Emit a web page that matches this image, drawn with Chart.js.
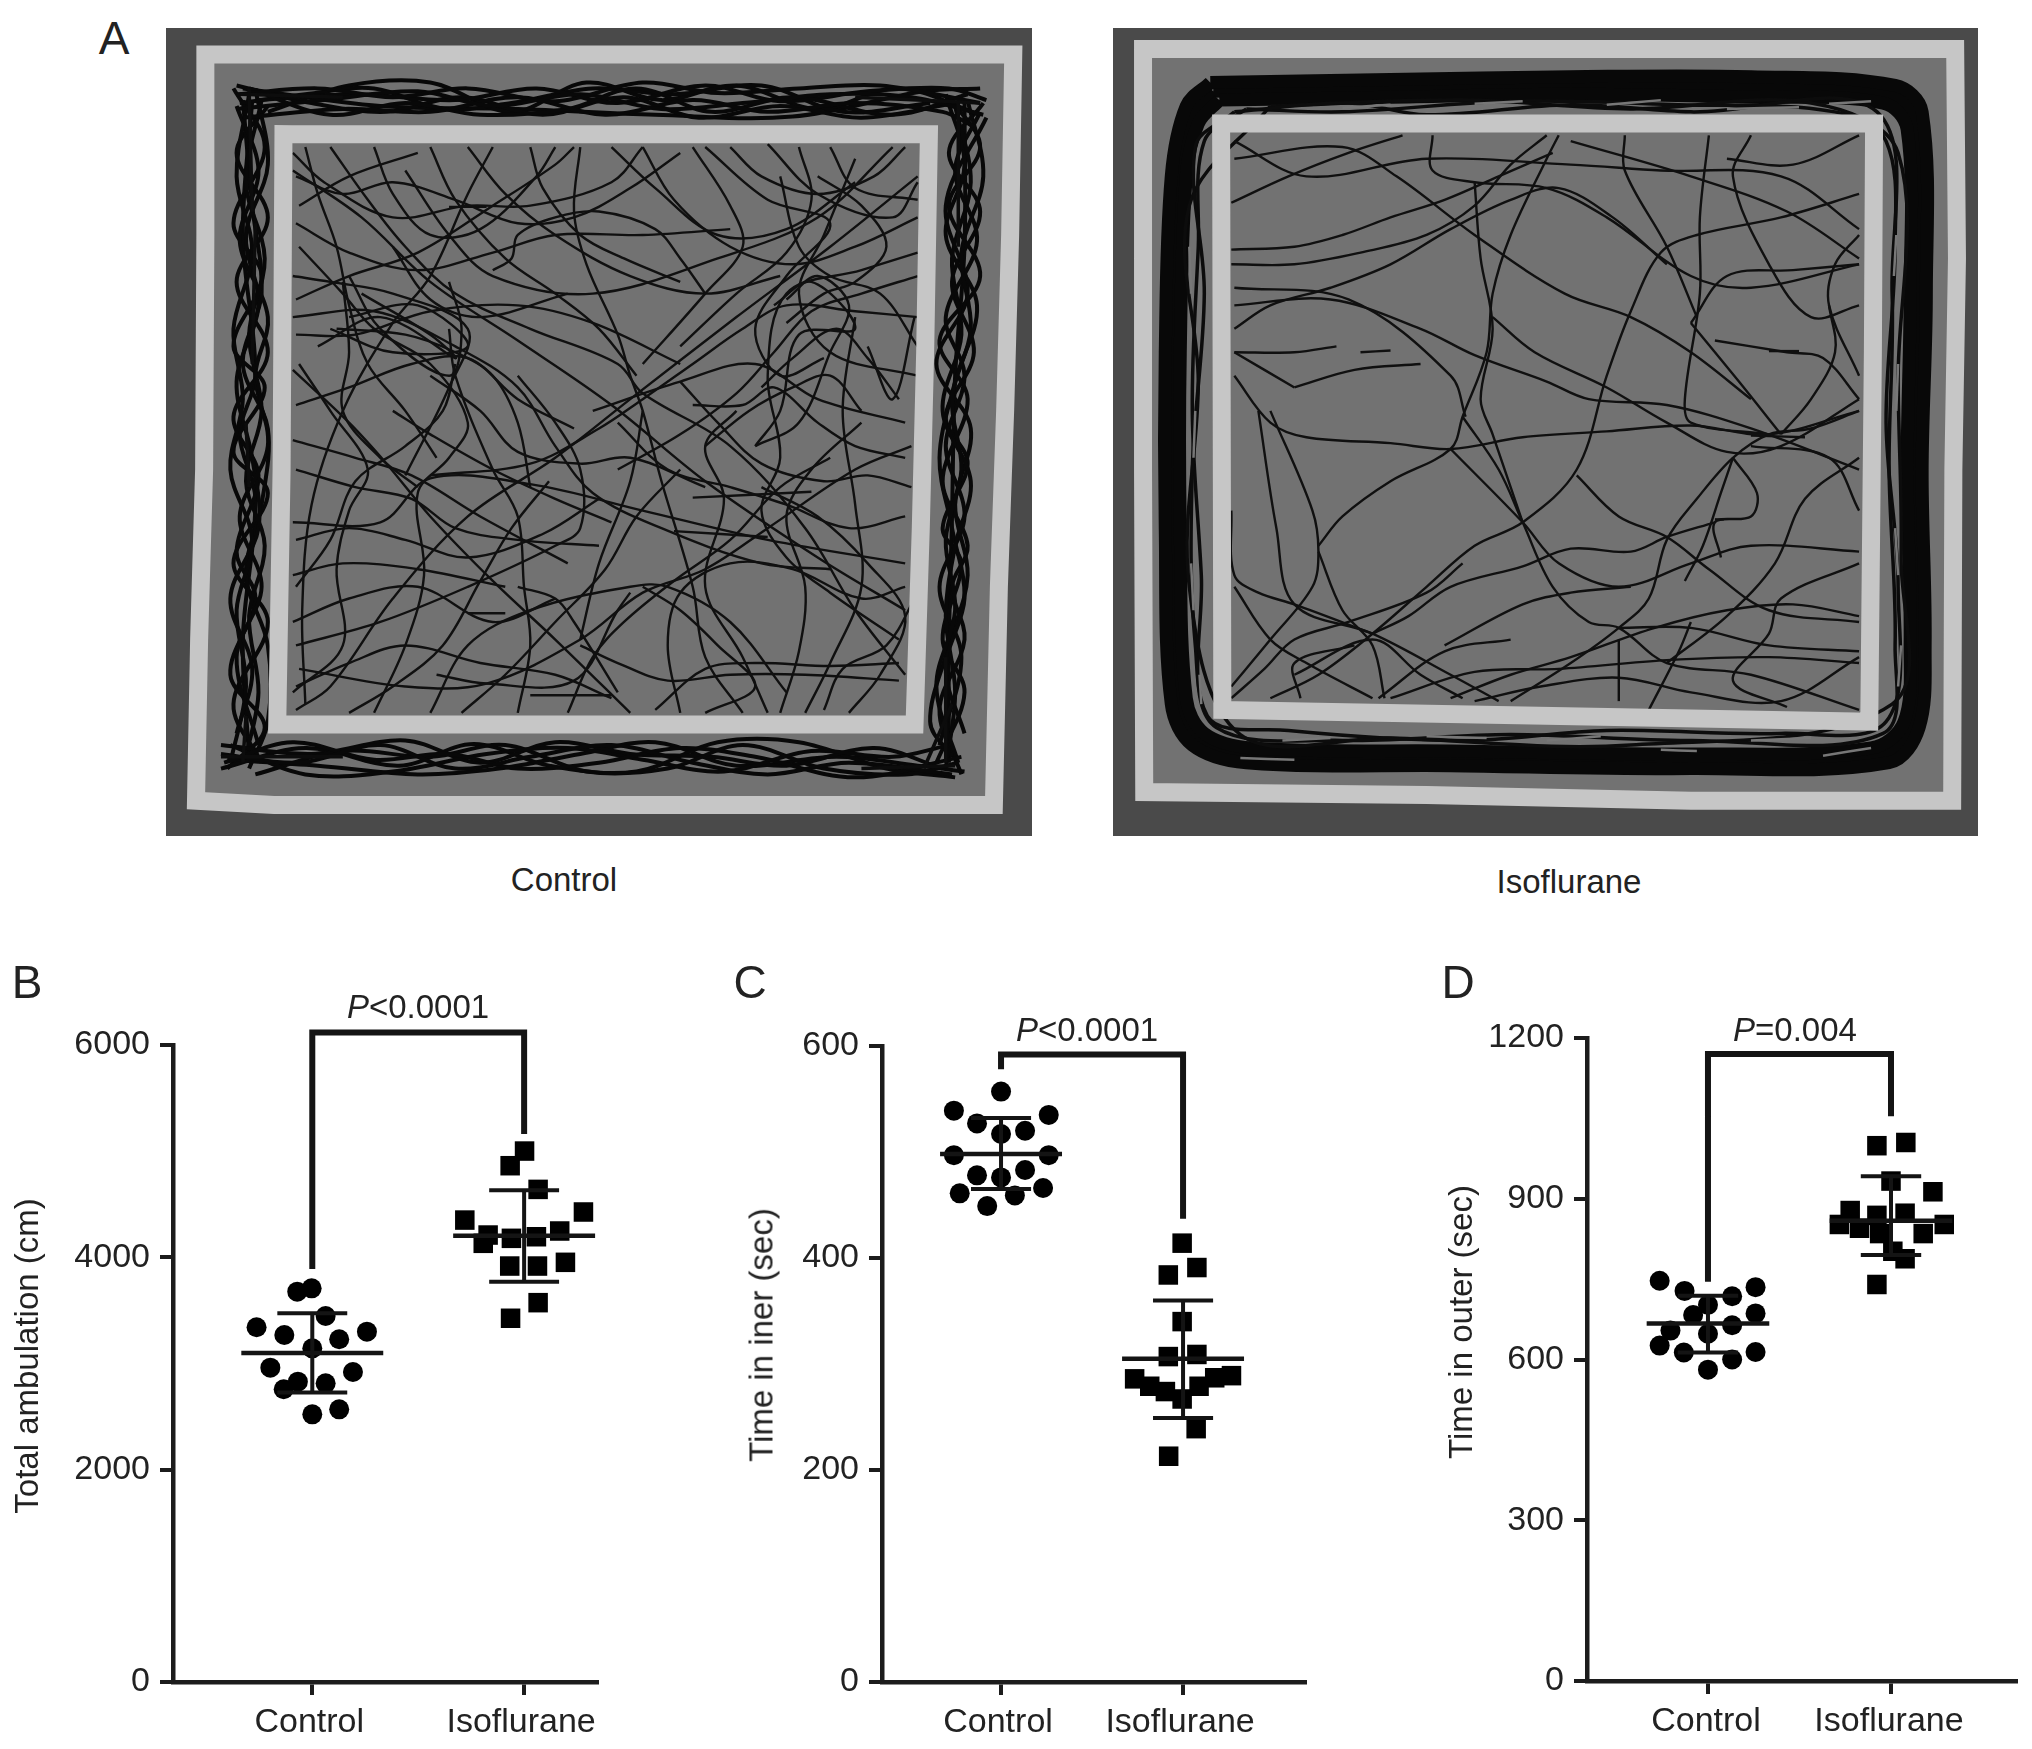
<!DOCTYPE html>
<html>
<head>
<meta charset="utf-8">
<title>Open field</title>
<script src="https://cdn.jsdelivr.net/npm/chart.js@4/dist/chart.umd.js"></script>
<style>
html, body { margin: 0; padding: 0; background: #fff; }
body { position: relative; width: 2032px; height: 1749px; overflow: hidden; font-family: "Liberation Sans", Arial, sans-serif; color: #222; }
canvas { position: absolute; }
.txt { position: absolute; transform: translate(-50%, -50%); font-size: 33px; line-height: 1; white-space: nowrap; }
.letter { font-size: 46px; }
.rot { transform: translate(-50%, -50%) rotate(-90deg); }
.track { filter: blur(0.6px); }
</style>
</head>
<body>
<canvas id="trackControl" class="track" style="left:166px;top:28px" width="866" height="808"></canvas>
<canvas id="trackIso" class="track" style="left:1113px;top:28px" width="865" height="808"></canvas>
<canvas id="chartB" style="left:0;top:940px" width="640" height="809"></canvas>
<canvas id="chartC" style="left:700px;top:940px" width="640" height="809"></canvas>
<canvas id="chartD" style="left:1400px;top:940px" width="632" height="809"></canvas>

<div class="txt letter" style="left:114px;top:38px">A</div>
<div class="txt" style="left:564px;top:879px">Control</div>
<div class="txt" style="left:1569px;top:881px">Isoflurane</div>

<div class="txt letter" style="left:27px;top:982px">B</div>
<div class="txt letter" style="left:750px;top:982px">C</div>
<div class="txt letter" style="left:1458px;top:982px">D</div>

<div class="txt" style="left:418px;top:1006px"><i>P</i>&lt;0.0001</div>
<div class="txt" style="left:1087px;top:1029px"><i>P</i>&lt;0.0001</div>
<div class="txt" style="left:1795px;top:1029px"><i>P</i>=0.004</div>

<div class="txt rot" style="left:26px;top:1356px">Total ambulation (cm)</div>
<div class="txt rot" style="left:761px;top:1335px">Time in iner (sec)</div>
<div class="txt rot" style="left:1460px;top:1322px">Time in outer (sec)</div>

<script>
var categories = ["Control", "Isoflurane"];

// panel B
var bControlX = [-0.071, -0.003, 0.063, -0.263, -0.132, 0.127, 0.258, 0, -0.198, 0.192, -0.068, -0.135, 0.063, 0, 0.127];
var bControlY = [3677, 3708, 3447, 3341, 3268, 3228, 3300, 3143, 2961, 2920, 2829, 2757, 2813, 2521, 2568];
var bIsoX = [0.002, -0.066, 0.066, -0.28, 0.28, -0.17, -0.193, -0.06, 0.058, 0.168, -0.068, 0.063, 0.195, 0.066, -0.064];
var bIsoY = [5001, 4863, 4640, 4351, 4427, 4210, 4132, 4179, 4194, 4248, 3918, 3918, 3953, 3573, 3426];
var bControlStats = [3099, 3473, 2728]; // mean, upper, lower
var bIsoStats = [4204, 4631, 3770];
var bBracket = [3890, 6117, 5161]; // left end, top, right end
var bTicks = [0, 2000, 4000, 6000];

// panel C
var cControlX = [0, -0.259, 0.262, -0.132, 0.132, 0, -0.259, 0.262, -0.132, 0.132, 0, -0.227, 0.231, 0.076, -0.076];
var cControlY = [557, 539, 535, 527, 520, 517, 497, 497, 478, 483, 476, 461, 466, 459, 449];
var cIsoX = [-0.005, -0.081, 0.076, -0.005, -0.081, 0.076, -0.266, -0.183, -0.097, -0.005, 0.088, 0.174, 0.266, 0.072, -0.079];
var cIsoY = [414, 384, 391, 340, 307, 309, 286, 279, 274, 267, 279, 287, 289, 239, 213];
var cControlStats = [498, 532, 465];
var cIsoStats = [305, 360, 249];
var cBracket = [578, 592, 437];
var cTicks = [0, 200, 400, 600];

// panel D
var dControlX = [-0.264, -0.128, 0.132, 0.26, 0, -0.081, 0.26, 0.132, -0.205, 0, -0.264, -0.132, 0.132, 0.26, 0];
var dControlY = [747, 728, 718, 735, 702, 683, 686, 664, 654, 648, 626, 613, 600, 614, 581];
var dIsoX = [-0.077, 0.081, 0, 0.229, -0.223, -0.077, 0.077, -0.282, -0.172, -0.062, 0.176, 0.291, 0.01, 0.077, -0.077];
var dIsoY = [999, 1005, 933, 913, 878, 869, 873, 852, 845, 835, 835, 852, 802, 788, 740];
var dControlStats = [667, 719, 613];
var dIsoStats = [859, 942, 795];
var dBracket = [745, 1170, 1054];
var dTicks = [0, 300, 600, 900, 1200];

// panel A, traced by eye, flat x,y lists in arena units
var controlOuterWall = [200,92, 1493,92, 1488,400, 1480,700, 1470,1000, 1462,1372, 310,1372, 185,1365, 190,1090, 198,800, 200,400, 200,92];
var controlInnerWall = [325,228, 1358,228, 1352,600, 1345,900, 1335,1235, 315,1235, 322,800, 325,228];
var controlRing = [
    [250,160, 380,150, 500,165, 620,150, 760,172, 900,140, 1020,158, 1150,150, 1280,145, 1440,175],
    [250,185, 390,170, 540,155, 660,180, 800,160, 930,185, 1060,175, 1200,160, 1330,165, 1445,195],
    [260,200, 420,185, 560,190, 700,165, 840,195, 980,170, 1100,190, 1240,175, 1380,190, 1430,215],
    [270,150, 400,195, 520,175, 640,195, 780,185, 890,150, 1010,190, 1140,165, 1300,195, 1420,160],
    [280,170, 440,160, 600,170, 730,150, 860,175, 1000,145, 1120,172, 1260,155, 1390,150, 1450,170],
    [255,175, 360,160, 470,150, 580,185, 690,175, 820,150, 950,160, 1090,145, 1220,190, 1360,175],
    [250,145, 370,175, 490,190, 610,165, 740,195, 870,165, 990,200, 1120,180, 1250,200, 1400,175],
    [300,190, 430,145, 560,140, 690,190, 810,140, 930,170, 1050,145, 1180,185, 1310,150, 1440,195],
    [260,150, 480,180, 700,185, 920,195, 1140,198, 1350,155, 1440,150],
    [225,1285, 350,1300, 480,1270, 600,1310, 720,1290, 850,1270, 980,1300, 1100,1320, 1230,1300, 1395,1320],
    [230,1300, 340,1265, 470,1295, 590,1285, 700,1310, 830,1300, 960,1275, 1080,1290, 1240,1325, 1410,1290],
    [240,1270, 360,1320, 500,1315, 650,1285, 780,1275, 900,1295, 1030,1315, 1170,1280, 1300,1290, 1390,1270],
    [280,1320, 420,1280, 560,1290, 680,1270, 810,1315, 940,1310, 1060,1270, 1190,1310, 1320,1320, 1405,1300],
    [225,1270, 370,1285, 520,1262, 640,1300, 760,1265, 880,1285, 1010,1290, 1130,1305, 1270,1275, 1380,1310],
    [225,1310, 360,1275, 510,1305, 630,1268, 750,1305, 890,1315, 1020,1265, 1150,1265, 1290,1310, 1400,1325],
    [235,1295, 380,1305, 540,1320, 670,1310, 800,1285, 920,1265, 1050,1305, 1210,1290, 1340,1305, 1415,1315],
    [270,160, 250,300, 275,430, 245,560, 260,680, 240,800, 275,920, 250,1040, 265,1170, 240,1300],
    [290,170, 265,310, 295,440, 270,570, 290,700, 265,820, 295,930, 270,1050, 285,1180, 265,1290],
    [250,180, 285,290, 255,410, 300,540, 280,640, 300,760, 255,880, 290,1000, 250,1120, 285,1270],
    [280,150, 300,280, 265,400, 285,520, 250,650, 275,780, 285,900, 240,1020, 275,1140, 250,1250],
    [260,170, 275,350, 290,500, 260,620, 300,730, 290,860, 265,980, 300,1100, 300,1230, 270,1310],
    [245,150, 295,250, 245,380, 290,470, 245,590, 295,660, 245,770, 300,840, 245,960, 300,1060, 245,1200, 290,1300],
    [300,180, 250,260, 300,370, 250,480, 300,600, 245,710, 285,810, 250,940, 280,1020, 240,1150, 295,1240, 235,1310],
    [275,170, 260,400, 280,640, 255,740, 280,850, 260,1090, 270,1290],
    [1420,170, 1445,300, 1410,430, 1425,560, 1395,680, 1410,800, 1385,920, 1400,1040, 1370,1170, 1405,1300],
    [1400,180, 1425,310, 1395,440, 1410,570, 1380,700, 1425,820, 1400,930, 1385,1050, 1400,1180, 1385,1310],
    [1440,190, 1400,290, 1435,410, 1385,540, 1415,640, 1385,760, 1415,880, 1375,1000, 1410,1120, 1375,1270],
    [1385,160, 1415,280, 1385,400, 1435,520, 1400,650, 1375,780, 1395,900, 1415,1020, 1385,1140, 1415,1250],
    [1450,200, 1385,350, 1420,500, 1370,620, 1425,730, 1400,860, 1420,980, 1390,1100, 1360,1230, 1395,1290],
    [1445,175, 1390,260, 1440,360, 1395,480, 1430,600, 1385,710, 1420,790, 1380,900, 1410,960, 1380,1090, 1415,1180, 1370,1300],
    [1395,170, 1440,250, 1390,350, 1440,470, 1375,580, 1420,680, 1380,820, 1420,930, 1395,1000, 1415,1090, 1375,1210, 1410,1320],
    [1415,175, 1415,420, 1400,640, 1395,880, 1390,1100, 1390,1300]
];
var controlRingHeavy = [
    [255,160, 420,165], [270,150, 275,360], [1240,165, 1440,175], [1405,170, 1405,420],
    [225,1290, 420,1290], [265,1220, 260,1300], [1350,1310, 1395,1200], [1385,1120, 1385,1300],
    [265,720, 270,830], [280,380, 275,620], [1250,1310, 1400,1305]
];
var controlPaths = [
    [340,290, 450,370, 560,480, 700,580, 850,690, 1000,820, 1180,950, 1320,1040],
    [1340,300, 1200,420, 1050,540, 880,680, 760,780, 620,880, 500,1020, 400,1170, 345,1210],
    [1300,250, 1180,370, 1020,440, 820,500, 660,470, 590,400, 520,290],
    [350,420, 420,500, 470,560, 560,620, 620,720, 590,780, 540,840, 550,980, 520,1100, 470,1215],
    [400,250, 460,340, 520,420, 600,500, 720,560, 860,620, 900,670, 1040,760, 1160,900, 1240,1040, 1320,1150],
    [340,890, 480,890, 560,815, 720,825, 900,870, 1100,920, 1320,960],
    [345,1100, 480,1060, 620,1000, 760,930, 800,900, 800,800, 760,720, 700,640],
    [340,630, 430,720, 490,790, 560,880, 660,990, 760,1090, 880,1215],
    [660,250, 620,330, 560,470, 500,550, 420,700, 370,860, 355,1040, 360,1200],
    [800,250, 790,360, 810,450, 860,570, 880,640, 900,700, 930,820, 980,1000, 1000,1120, 1060,1215],
    [1340,540, 1240,530, 1130,520, 1060,560, 980,620, 900,680, 830,730, 720,790, 560,810],
    [1320,720, 1180,680, 1080,620, 960,650, 820,700],
    [350,1140, 520,1170, 650,1165, 800,1090, 900,1010, 1000,970, 1100,900, 1240,800, 1330,760],
    [1340,640, 1200,600, 1150,500, 1190,400, 1240,270],
    [1240,540, 1220,700, 1240,860, 1250,1000, 1200,1130, 1160,1215],
    [560,1215, 620,1100, 720,1040, 880,1000, 940,1000, 1040,1060, 1130,1180],
    [700,1215, 720,1100, 710,1000, 700,880, 660,800, 600,640, 590,560],
    [340,750, 440,780, 530,810, 640,880, 780,960],
    [340,540, 470,530, 600,590, 700,660, 760,760, 820,840, 930,900, 1090,960, 1200,970],
    [980,250, 1040,350, 1060,420, 1000,500, 900,620],
    [1100,245, 1180,330, 1300,370, 1340,310],
    [1340,430, 1250,460, 1130,500, 1100,640, 1120,780, 1090,870, 1130,950, 1200,1010, 1310,1090],
    [350,350, 430,300, 540,260],
    [570,1150, 650,1165, 790,1160, 860,1040, 880,1010],
    [900,700, 880,820, 830,960, 800,1090],
    [340,980, 420,960, 540,970, 680,1000],
    [1310,1130, 1200,1135, 1080,1130, 1000,1140, 920,1210],
    [1050,700, 1000,760, 1030,850, 1000,1000, 1060,1120, 1100,1215],
    [340,470, 400,480, 500,500, 620,560, 590,660, 520,810],
    [660,460, 690,440, 700,400, 760,370, 830,360, 920,390, 960,440, 1000,500],
    [500,420, 560,510, 640,540, 780,500],
    [420,480, 430,600, 420,700, 480,780, 540,830],
    [700,1000, 760,1020, 790,1060, 860,1180],
    [1340,1010, 1290,1100, 1220,1140, 1190,1210],
    [1260,590, 1300,680, 1335,540],
    [340,260, 390,310, 500,370, 620,350, 720,350, 850,310, 900,250],
    [1000,250, 1100,340, 1200,380, 1130,470, 1080,560, 1120,640, 1190,610],
    [350,620, 400,700, 460,800, 430,870, 410,970, 420,1100, 340,1180],
    [400,560, 500,600, 620,590, 540,520, 430,540],
    [380,590, 480,540, 600,610, 560,570, 450,500],
    [1110,520, 1170,480, 1240,560, 1150,570, 1120,700, 1080,760],
    [1000,760, 1070,700, 1140,660, 1200,640, 1250,700],
    [340,1060, 430,1020, 540,1000, 660,1060, 760,1020],
    [1200,250, 1240,320, 1340,340],
    [850,250, 920,320, 1020,400, 1130,390, 1240,310],
    [345,300, 420,330, 500,310, 600,340, 700,380, 790,370, 880,320, 960,260],
    [345,380, 430,430, 540,460, 660,430, 760,400, 900,400, 1040,390],
    [360,250, 380,330, 410,420, 430,520, 460,620, 520,700, 570,780],
    [470,250, 500,330, 560,400, 640,390, 730,300, 760,250],
    [560,250, 600,340, 680,440, 760,500, 830,560, 890,640],
    [620,250, 680,330, 760,400, 880,470, 1000,500, 1120,470],
    [720,250, 740,320, 800,400, 870,440, 960,480],
    [900,250, 950,340, 1040,420, 1140,450, 1240,420, 1340,370],
    [1040,250, 1090,300, 1180,330, 1270,300, 1320,250],
    [1150,250, 1170,340, 1130,430, 1050,500, 960,590],
    [1340,470, 1250,500, 1170,530, 1110,600, 1050,670, 960,740, 860,800],
    [1340,590, 1280,500, 1200,470, 1150,420, 1120,300],
    [345,510, 430,470, 540,430, 660,350, 760,280, 790,250],
    [345,570, 440,570, 560,530, 700,520, 820,550, 960,620],
    [345,690, 430,660, 530,620, 620,610, 700,680, 790,730],
    [345,800, 440,830, 530,850, 600,900, 700,920, 830,930],
    [345,920, 430,900, 520,920, 620,950, 740,910, 830,850],
    [345,1000, 400,920, 440,820, 520,760, 580,700, 600,620],
    [345,1170, 430,1130, 520,1100, 640,1130, 760,1150, 850,1190],
    [430,1215, 500,1170, 580,1100, 640,990, 690,900, 750,820],
    [610,1215, 680,1150, 760,1060, 840,970, 890,880, 960,800],
    [780,1215, 820,1120, 870,1060, 950,990, 1040,920, 1120,830, 1200,780],
    [960,1215, 940,1100, 960,1010, 1040,960, 1140,970, 1250,1020, 1320,1000],
    [1120,1215, 1150,1110, 1160,1000, 1130,880, 1170,800, 1250,720],
    [1230,1215, 1280,1150, 1320,1050, 1260,960, 1180,880, 1090,830],
    [1320,880, 1230,900, 1130,860, 1040,830, 940,800, 860,720],
    [1330,830, 1260,810, 1190,820, 1090,790, 1020,720, 960,650],
    [980,690, 1060,690, 1110,660, 1180,720, 1240,760, 1320,780],
    [1080,760, 1150,720, 1200,600, 1230,520, 1180,470, 1130,510],
    [900,1000, 960,1040, 1020,1100, 1080,1170, 1000,1215],
    [800,1100, 860,1130, 940,1160, 1040,1150, 1160,1150, 1310,1160],
    [560,640, 640,700, 700,770, 800,790, 880,780, 1000,830],
    [500,700, 560,740, 660,800, 760,850, 850,890],
    [410,560, 520,570, 600,600, 660,640, 700,720, 720,830],
    [430,470, 480,560, 590,640, 610,560, 590,480],
    [1130,550, 1190,500, 1240,480, 1290,420, 1250,350, 1180,300],
    [1090,660, 1140,610, 1210,560, 1260,610, 1310,680],
    [620,1045, 680,1045], [590,352, 650,352], [720,1185, 850,1185], [980,848, 1170,838], [950,905, 1100,915]
];

var isoOuterWall = [88,83, 1440,83, 1443,440, 1437,800, 1435,1365, 1000,1365, 560,1355, 90,1350, 88,800, 88,83];
var isoInnerWall = [218,210, 1305,210, 1303,600, 1297,1230, 220,1210, 218,210];
var isoRing = [
    [200,140, 500,135, 800,130, 1100,130, 1340,145, 1385,190, 1392,500, 1385,800, 1390,1100, 1380,1240, 1330,1300, 1000,1310, 600,1305, 260,1300, 170,1270, 135,1200, 125,900, 125,600, 135,300, 160,180, 200,140],
    [215,170, 500,165, 800,160, 1100,165, 1320,175, 1360,220, 1365,500, 1360,800, 1365,1100, 1355,1230, 1300,1275, 1000,1285, 600,1280, 270,1275, 190,1250, 160,1190, 150,900, 150,600, 160,300, 180,210, 215,170],
    [205,155, 500,150, 800,145, 1100,148, 1330,160, 1372,205, 1378,500, 1372,800, 1378,1100, 1368,1235, 1315,1288, 1000,1298, 600,1292, 265,1288, 180,1260, 148,1195, 138,900, 138,600, 148,300, 170,195, 205,155]
];
var isoRingThin = [
    [240,190, 430,175, 560,195, 800,178, 1000,190, 1310,190, 1335,500, 1330,800, 1340,1100, 1320,1250, 1000,1262, 700,1252, 420,1262, 210,1240, 175,1100, 170,800, 190,500, 175,250, 240,190],
    [300,180, 620,170, 900,185, 1200,175, 1345,260, 1345,650, 1350,950, 1335,1200, 900,1270, 500,1258, 250,1252, 165,1000, 180,650, 165,350, 300,180],
    [260,185, 420,190, 700,172, 980,178, 1240,190, 1325,240, 1340,420, 1325,720, 1345,1000, 1325,1230, 1150,1250, 860,1245, 620,1262, 330,1245, 195,1220, 185,980, 170,700, 180,420, 190,240, 260,185]
];
var isoRingFlecks = [
    [420,183, 500,178], [640,176, 720,172], [860,178, 950,170], [1060,185, 1180,182], [1230,176, 1300,172],
    [320,1262, 400,1258], [560,1255, 660,1258], [760,1262, 850,1255], [950,1278, 1010,1280], [1100,1262, 1200,1258],
    [165,420, 168,500], [175,700, 172,780], [168,960, 172,1040], [182,1150, 185,1200],
    [1342,400, 1338,470], [1345,620, 1342,700], [1340,900, 1345,980], [1350,1100, 1345,1170],
    [250,1292, 340,1295], [1220,1288, 1300,1275]
];
var isoPaths = [
    [235,345, 330,300, 430,260, 520,230],
    [235,425, 340,420, 420,400, 500,370, 590,340, 680,300, 770,260],
    [235,450, 340,450, 450,430, 560,400, 640,350, 700,280, 760,230],
    [240,560, 300,520, 400,490, 500,450, 600,390, 700,340, 780,320, 870,370, 960,450],
    [570,230, 570,290, 640,310, 760,320, 860,370, 1000,470, 1100,490, 1280,450],
    [240,600, 340,600, 410,590],
    [340,660, 440,630, 550,620],
    [240,600, 340,660],
    [240,640, 300,720, 360,745, 500,755, 600,765, 720,745, 860,735, 1000,725, 1130,740, 1280,700],
    [280,700, 310,900, 340,1030, 470,1080, 600,1150, 680,1195],
    [300,700, 370,870, 380,940, 370,1000, 300,1090, 235,1170],
    [380,940, 420,1040, 470,1100, 490,1190],
    [380,930, 420,880, 500,820, 600,765, 620,710, 660,600, 670,500, 700,400, 760,270, 780,230],
    [620,710, 680,800, 720,890, 770,1000, 830,1060, 880,1070, 960,1130, 1100,1150, 1280,1210],
    [600,765, 720,890, 780,960, 880,1000, 1000,960, 1100,930, 1280,940],
    [1280,700, 1200,730, 1130,740, 1070,780, 1010,850, 960,920, 930,1020, 880,1070, 800,1130, 700,1195],
    [890,230, 890,290, 960,420, 1010,540],
    [1030,230, 1015,370, 1015,500, 990,680, 1000,720, 1130,740],
    [1280,330, 1150,370, 1010,400, 950,430, 900,530, 860,640, 810,800, 720,890, 640,930, 560,1000, 470,1080, 380,1150, 300,1190],
    [240,520, 400,510, 550,560, 640,605, 760,650, 830,680, 960,690, 1100,730, 1280,800],
    [670,540, 740,600, 860,660, 960,720, 1060,770, 1150,760, 1280,680],
    [240,490, 430,510, 600,640, 625,710],
    [1000,550, 1060,470, 1170,460, 1280,450],
    [1000,550, 1080,650, 1150,740],
    [1040,580, 1160,600, 1220,610, 1280,680],
    [235,870, 240,980, 280,1010, 340,1030, 470,1080],
    [810,810, 880,880, 960,915, 1030,970, 1130,1040, 1280,1060],
    [1070,780, 1110,840, 1100,880, 1040,890, 1050,950],
    [590,1100, 720,1030, 800,1010, 900,1000],
    [480,1190, 590,1110, 700,1090],
    [880,1070, 1000,1070, 1130,1100, 1280,1110],
    [1280,1130, 1130,1120, 960,1125, 780,1140, 640,1145, 500,1190],
    [1040,890, 960,915, 900,940, 800,935, 720,965, 600,1000, 530,1050, 470,1080],
    [1280,960, 1150,1020, 1130,1080, 1070,1160, 1160,1205],
    [930,1210, 980,1110, 1000,1060],
    [880,1195, 880,1090],
    [640,310, 650,440, 670,560, 650,680, 670,740, 720,890],
    [240,240, 360,300, 560,270, 800,280, 950,290, 1150,300, 1280,390],
    [1280,520, 1200,540, 1130,450, 1070,300, 1100,230],
    [800,240, 1000,300, 1160,360, 1280,440],
    [1280,230, 1170,280, 1060,270],
    [340,1150, 470,1090, 550,1150, 620,1190],
    [350,1190, 340,1130, 440,1100],
    [1230,520, 1240,600, 1200,680, 1150,740],
    [1280,870, 1230,780, 1100,760],
    [240,1000, 300,1090, 360,1130, 470,1190],
    [1280,780, 1190,850, 1140,960, 1060,1050, 960,1130],
    [600,1190, 700,1150, 800,1120, 940,1070, 1060,1040, 1170,1030, 1280,1050],
    [235,1190, 290,1140, 340,1090, 430,1060, 560,1010, 620,960],
    [640,1195, 750,1170, 880,1155, 1000,1180, 1150,1195, 1280,1120],
    [1070,780, 1050,840, 1020,930, 990,990],
    [240,270, 420,250, 510,300, 640,400, 790,500, 900,540, 1000,600, 1100,680],
    [1280,640, 1230,520, 1240,450, 1280,400],
    [450,600, 500,597], [1130,598, 1180,598], [1100,742, 1190,745], [1040,885, 1055,885]
];

var ink = "#141414";
var axisColor = "#1c1c1c";
var fontFamily = '"Liberation Sans", Arial, sans-serif';

function pairs(flat) {
    var out = [];
    for (var i = 0; i < flat.length; i += 2) {
        out.push({ x: flat[i], y: flat[i + 1] });
    }
    return out;
}

function lineSet(points, width, color) {
    return {
        data: points, showLine: true, pointRadius: 0, borderWidth: width, borderColor: color,
        backgroundColor: color, borderJoinStyle: "miter", clip: false
    };
}

function errorSets(center, stats) {
    var mean = stats[0], upper = stats[1], lower = stats[2];
    return [
        lineSet([{ x: center - 0.335, y: mean }, { x: center + 0.335, y: mean }], 4.5, ink),
        lineSet([{ x: center, y: upper }, { x: center, y: lower }], 4, ink),
        lineSet([{ x: center - 0.165, y: upper }, { x: center + 0.165, y: upper }], 4, ink),
        lineSet([{ x: center - 0.165, y: lower }, { x: center + 0.165, y: lower }], 4, ink)
    ];
}

function dotSet(center, offsets, values, style, radius) {
    return {
        data: values.map(function (v, i) { return { x: center + offsets[i], y: v }; }),
        showLine: false, pointStyle: style, pointRadius: radius, pointHoverRadius: radius,
        backgroundColor: "#000", borderWidth: 0, clip: false
    };
}

function dotPlot(id, panel) {
    var box = panel.box;
    var bracket = panel.bracket;
    var datasets = errorSets(1, panel.controlStats)
        .concat(errorSets(2, panel.isoStats))
        .concat([
            dotSet(1, panel.controlX, panel.controlY, "circle", 10),
            dotSet(2, panel.isoX, panel.isoY, "rect", 13.8),
            lineSet([{ x: 1, y: bracket[0] }, { x: 1, y: bracket[1] }, { x: 2, y: bracket[1] }, { x: 2, y: bracket[2] }], 6, ink)
        ]);

    new Chart(document.getElementById(id), {
        type: "scatter",
        data: { datasets: datasets },
        options: {
            responsive: false,
            animation: false,
            layout: { padding: { left: 0, top: box.top, right: box.right, bottom: 0 } },
            plugins: { legend: { display: false }, tooltip: { enabled: false } },
            scales: {
                x: {
                    type: "linear",
                    min: panel.xMin,
                    max: panel.xMax,
                    afterBuildTicks: function (scale) {
                        scale.ticks = categories.map(function (c, i) { return { value: i + 1 }; });
                    },
                    afterFit: function (scale) { scale.height = box.bottom; },
                    border: { color: axisColor, width: 4.5 },
                    grid: { drawOnChartArea: false, tickLength: 13, lineWidth: 4, color: axisColor },
                    ticks: {
                        font: { size: 34, family: fontFamily },
                        color: "#222",
                        padding: 7,
                        maxRotation: 0,
                        autoSkip: false,
                        labelOffset: panel.labelOffset,
                        callback: function (v) { return categories[v - 1]; }
                    }
                },
                y: {
                    min: 0,
                    max: panel.ticks[panel.ticks.length - 1],
                    afterBuildTicks: function (scale) {
                        scale.ticks = panel.ticks.map(function (t) { return { value: t }; });
                    },
                    afterFit: function (scale) { scale.width = box.left; },
                    border: { color: axisColor, width: 4.5 },
                    grid: { drawOnChartArea: false, tickLength: 13, lineWidth: 4, color: axisColor },
                    ticks: {
                        font: { size: 34, family: fontFamily },
                        color: "#222",
                        padding: 10,
                        callback: function (v) { return v; }
                    }
                }
            }
        }
    });
}

function trackPlot(id, xRange, yRange, outerWall, innerWall, ringWidth, ring, ringExtra, flecks, paths) {
    var wallColor = "#c6c6c6";
    var walls = [lineSet(pairs(innerWall), 18, wallColor), lineSet(pairs(outerWall), 18, wallColor)];
    walls.forEach(function (d) { d.borderCapStyle = "square"; });
    var strands = [];
    paths.forEach(function (p) { strands.push(lineSet(pairs(p), 2.4, "#101010")); });
    flecks.forEach(function (p) { strands.push(lineSet(pairs(p), 2.5, "#777777")); });
    ringExtra.forEach(function (p) { strands.push(lineSet(pairs(p), 3.5, "#0c0c0c")); });
    ring.forEach(function (p) { strands.push(lineSet(pairs(p), ringWidth, "#080808")); });
    strands.forEach(function (d) { d.tension = 0.35; d.borderJoinStyle = "round"; });
    var floor = lineSet(pairs(outerWall), 0, "#727272");
    floor.fill = "shape";

    new Chart(document.getElementById(id), {
        type: "scatter",
        data: { datasets: walls.concat(strands, [floor]) },
        options: {
            responsive: false,
            animation: false,
            plugins: { legend: { display: false }, tooltip: { enabled: false } },
            scales: {
                x: { type: "linear", display: false, min: xRange[0], max: xRange[1] },
                y: { type: "linear", display: false, reverse: true, min: yRange[0], max: yRange[1] }
            }
        }
    });
}

document.getElementById("trackControl").style.background = "#4a4a4a";
document.getElementById("trackIso").style.background = "#4a4a4a";

trackPlot("trackControl", [137, 1523], [47, 1425], controlOuterWall, controlInnerWall, 4, controlRing, controlRingHeavy, [], controlPaths);
trackPlot("trackIso", [38, 1478], [47, 1425], isoOuterWall, isoInnerWall, 13, isoRing, isoRingThin, isoRingFlecks, isoPaths);

dotPlot("chartB", {
    box: { left: 173, top: 105, right: 43, bottom: 67 }, xMin: 0.3425, xMax: 2.344, labelOffset: -3,
    controlX: bControlX, controlY: bControlY, isoX: bIsoX, isoY: bIsoY,
    controlStats: bControlStats, isoStats: bIsoStats, bracket: bBracket, ticks: bTicks
});
dotPlot("chartC", {
    box: { left: 182, top: 106, right: 35, bottom: 67 }, xMin: 0.346, xMax: 2.67, labelOffset: -3,
    controlX: cControlX, controlY: cControlY, isoX: cIsoX, isoY: cIsoY,
    controlStats: cControlStats, isoStats: cIsoStats, bracket: cBracket, ticks: cTicks
});
dotPlot("chartD", {
    box: { left: 187, top: 98, right: 16, bottom: 68 }, xMin: 0.339, xMax: 2.683, labelOffset: -2,
    controlX: dControlX, controlY: dControlY, isoX: dIsoX, isoY: dIsoY,
    controlStats: dControlStats, isoStats: dIsoStats, bracket: dBracket, ticks: dTicks
});
</script>
</body>
</html>
